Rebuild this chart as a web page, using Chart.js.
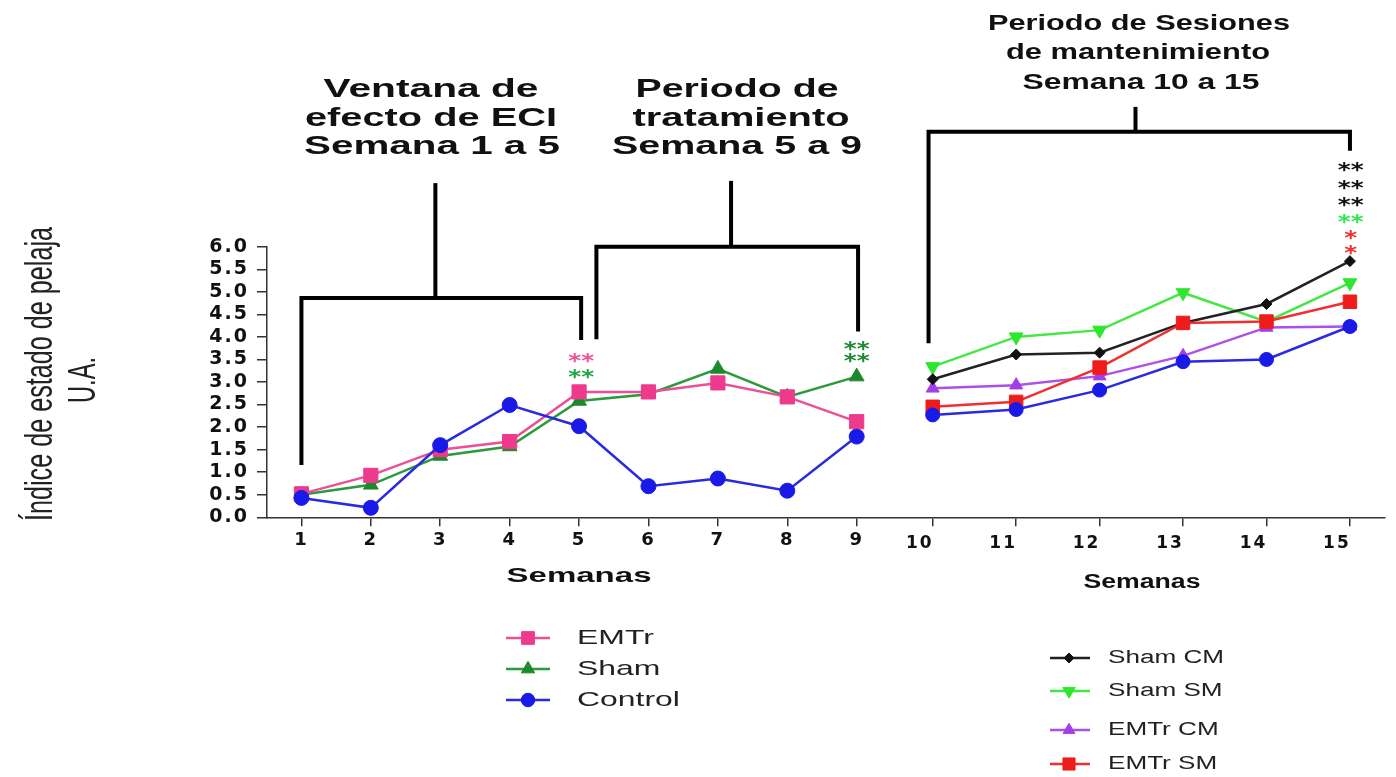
<!DOCTYPE html>
<html><head><meta charset="utf-8">
<script src="https://cdn.jsdelivr.net/npm/chart.js@4.4.0/dist/chart.umd.min.js"></script>
<style>
html,body{margin:0;padding:0;background:#fff;width:1396px;height:777px;overflow:hidden}
.box{position:absolute;top:0;height:777px}
</style></head><body>
<div class="box" style="left:0;width:900px"><canvas id="cL"></canvas></div>
<div class="box" style="left:900px;width:496px"><canvas id="cR"></canvas></div>
<script>
// ---------- data ----------
const weeksLeft  = [1, 2, 3, 4, 5, 6, 7, 8, 9];
const weeksRight = [10, 11, 12, 13, 14, 15];
const yTickValues = [0, 0.5, 1, 1.5, 2, 2.5, 3, 3.5, 4, 4.5, 5, 5.5, 6];
const yTickLabels = ['0.0','0.5','1.0','1.5','2.0','2.5','3.0','3.5','4.0','4.5','5.0','5.5','6.0'];

const emtr    = [0.52, 0.93, 1.50, 1.68, 2.78, 2.78, 2.98, 2.67, 2.12];
const sham    = [0.50, 0.72, 1.36, 1.57, 2.58, 2.73, 3.29, 2.67, 3.12];
const control = [0.43, 0.21, 1.60, 2.49, 2.02, 0.69, 0.86, 0.59, 1.79];

const shamCM       = [3.06, 3.61, 3.65, 4.31, 4.73, 5.68];
const shamSM       = [3.34, 4.00, 4.15, 4.98, 4.34, 5.20];
const emtrCM       = [2.86, 2.93, 3.13, 3.58, 4.21, 4.23];
const emtrSM       = [2.45, 2.56, 3.32, 4.31, 4.34, 4.78];
const controlRight = [2.27, 2.39, 2.82, 3.45, 3.50, 4.23];

// bracket annotations (data units): x1,x2 ends, y bar level, yl/yr bottoms, xs/ys stem
const bracketsLeft  = [
  {x1: 1.00, x2: 5.03, y: 4.86, yl: 1.16, yr: 3.93, xs: 2.93, ys: 7.41},
  {x1: 5.25, x2: 9.02, y: 6.00, yl: 3.95, yr: 4.12, xs: 7.19, ys: 7.46}
];
const bracketsRight = [
  {x1: 9.95, x2: 15.0, y: 8.55, yl: 3.86, yr: 8.13, xs: 12.43, ys: 9.10}
];
const starsLeft = [
  {x: 5.03, y: 3.56, t: '**', c: '#f0509a'},
  {x: 5.03, y: 3.20, t: '**', c: '#22a444'},
  {x: 9.00, y: 3.82, t: '**', c: '#1e8a30'},
  {x: 9.00, y: 3.56, t: '**', c: '#1e8a30'}
];
const starsRight = [
  {x: 15.01, y: 7.79, t: '**', c: '#111111'},
  {x: 15.01, y: 7.39, t: '**', c: '#111111'},
  {x: 15.01, y: 7.01, t: '**', c: '#111111'},
  {x: 15.01, y: 6.63, t: '**', c: '#33e655'},
  {x: 15.01, y: 6.28, t: '*',  c: '#f03030'},
  {x: 15.01, y: 5.95, t: '*',  c: '#f03030'}
];
const titlesLeft = [
  {lines: ['Ventana de', 'efecto de ECI', 'Semana 1 a 5'], cx: [431, 431, 432], w: [215, 252, 256], y: [90, 119, 147]},
  {lines: ['Periodo de', 'tratamiento', 'Semana 5 a 9'], cx: [737, 741, 737], w: [203, 217, 250], y: [90, 119, 147]}
];
const titlesRight = [
  {lines: ['Periodo de Sesiones', 'de mantenimiento', 'Semana 10 a 15'], cx: [239, 238, 241], w: [302, 264, 237], y: [24, 53, 83]}
];
const legendLeft  = ['EMTr', 'Sham', 'Control'];
const legendRight = ['Sham CM', 'Sham SM', 'EMTr CM', 'EMTr SM'];

// ---------- helpers ----------
const pts = (xs, ys) => xs.map((x, i) => ({x: x, y: ys[i]}));
function scaledText(ctx, txt, x, y, font, sx, align, color, sy) {
  ctx.save();
  ctx.font = font; ctx.fillStyle = color || '#111';
  ctx.textBaseline = 'middle'; ctx.textAlign = align || 'left';
  ctx.translate(x, y); ctx.scale(sx, sy || 1);
  ctx.fillText(txt, 0, 0);
  ctx.restore();
}
function fitText(ctx, txt, cx, cy, font, w, color) {
  ctx.save(); ctx.font = font;
  const m = ctx.measureText(txt).width;
  ctx.restore();
  scaledText(ctx, txt, cx, cy, font, w / m, 'center', color);
}
function drawBrackets(chart, list) {
  const ctx = chart.ctx, xs = chart.scales.x, ys = chart.scales.y;
  ctx.save();
  ctx.strokeStyle = '#000'; ctx.lineWidth = 4; ctx.lineCap = 'butt'; ctx.lineJoin = 'miter';
  list.forEach(b => {
    const X1 = xs.getPixelForValue(b.x1), X2 = xs.getPixelForValue(b.x2);
    const Y = ys.getPixelForValue(b.y);
    ctx.beginPath();
    ctx.moveTo(X1, ys.getPixelForValue(b.yl));
    ctx.lineTo(X1, Y); ctx.lineTo(X2, Y);
    ctx.lineTo(X2, ys.getPixelForValue(b.yr));
    ctx.stroke();
    const XS = xs.getPixelForValue(b.xs);
    ctx.beginPath();
    ctx.moveTo(XS, Y); ctx.lineTo(XS, ys.getPixelForValue(b.ys));
    ctx.stroke();
  });
  ctx.restore();
}
function drawStars(chart, list) {
  const ctx = chart.ctx, xs = chart.scales.x, ys = chart.scales.y;
  list.forEach(s => {
    scaledText(ctx, s.t, xs.getPixelForValue(s.x), ys.getPixelForValue(s.y) + 5,
      'bold 19px "DejaVu Sans"', 1.3, 'center', s.c);
  });
}
function drawTitles(chart, list, fontPx) {
  list.forEach(t => t.lines.forEach((ln, i) => {
    fitText(chart.ctx, ln, t.cx[i], t.y[i], 'bold ' + fontPx + 'px "Liberation Sans"', t.w[i], '#111');
  }));
}
function drawLegend(chart, labels, lx1, lx2, mx, tx, rows, font, sx) {
  const ctx = chart.ctx;
  labels.forEach((lab, i) => {
    const ds = chart.data.datasets.find(d => d.label === lab);
    const y = rows[i];
    ctx.save();
    ctx.strokeStyle = ds.borderColor; ctx.lineWidth = ds.borderWidth;
    ctx.beginPath(); ctx.moveTo(lx1, y); ctx.lineTo(lx2, y); ctx.stroke();
    ctx.fillStyle = ds.pointBackgroundColor; ctx.strokeStyle = ds.pointBorderColor; ctx.lineWidth = 1;
    Chart.helpers.drawPoint(ctx, {pointStyle: ds.pointStyle, rotation: ds.pointRotation || 0,
      radius: ds.pointRadius * 0.9, borderWidth: 1}, mx, y);
    ctx.restore();
    scaledText(ctx, lab, tx, y, font, sx, 'left', '#222');
  });
}
function ds(label, data, color, lineColor, style, radius, rot) {
  return {label, data, borderColor: lineColor, borderWidth: 2.5, pointStyle: style,
    pointRadius: radius, pointHoverRadius: radius, pointRotation: rot || 0,
    pointBackgroundColor: color, pointBorderColor: color, pointBorderWidth: 1,
    tension: 0, fill: false};
}
const spacingPlugin = {
  id: 'spacing',
  beforeDraw(chart) { chart.ctx.letterSpacing = '2px'; },
  afterDatasetsDraw(chart) { chart.ctx.letterSpacing = '0px'; }
};
function yScale(show) {
  return {
    type: 'linear', min: 0, max: 6, display: show,
    afterBuildTicks: s => { s.ticks = yTickValues.map(v => ({value: v})); },
    ticks: {callback: (v, i) => yTickLabels[i], color: '#111', padding: 8, autoSkip: false,
      font: {family: 'DejaVu Sans', weight: 'bold', size: 19}},
    grid: {display: true, drawOnChartArea: false, drawTicks: true, tickLength: 10, color: '#333', lineWidth: 1.5},
    border: {display: true, color: '#333', width: 1.5},
    afterFit: s => { s.width = show ? 60 : 0; s.paddingTop = 0; s.paddingBottom = 0; s.paddingLeft = 0; s.paddingRight = 0; }
  };
}
function xScale(min, max, ticksArr, fontSize, pad, offset) {
  return {
    type: 'linear', min, max,
    afterBuildTicks: s => { s.ticks = ticksArr.map(v => ({value: v})); },
    ticks: {callback: v => String(v), color: '#111', padding: pad, labelOffset: offset, maxRotation: 0,
      autoSkip: false, font: {family: 'DejaVu Sans', weight: 'bold', size: fontSize}},
    grid: {display: true, drawOnChartArea: false, drawTicks: true, tickLength: 9, color: '#333', lineWidth: 1.5},
    border: {display: true, color: '#333', width: 1.5},
    afterFit: s => { s.height = 60; s.paddingLeft = 0; s.paddingRight = 0; s.paddingTop = 0; s.paddingBottom = 0; }
  };
}

// ---------- left chart ----------
new Chart(document.getElementById('cL'), {
  type: 'line',
  data: {datasets: [
    ds('Control', pts(weeksLeft, control), '#1a1ae8', '#2a2ae0', 'circle', 7.5),
    ds('EMTr', pts(weeksLeft, emtr), '#ee3a8c', '#ee4e96', 'rect', 10),
    ds('Sham', pts(weeksLeft, sham), '#1c8a2c', '#2a9a3a', 'triangle', 8.5)
  ]},
  options: {
    responsive: true, maintainAspectRatio: false, animation: false,
    layout: {autoPadding: false, padding: {left: 207, right: 0, top: 246.7, bottom: 199.7}},
    plugins: {legend: {display: false}, tooltip: {enabled: false}},
    scales: {x: xScale(0.504, 9.624, weeksLeft, 18, 3, 0), y: yScale(true)}
  },
  plugins: [spacingPlugin, {
    id: 'decoL',
    afterDraw(chart) {
      const ctx = chart.ctx;
      ctx.letterSpacing = '0px';
      drawBrackets(chart, bracketsLeft);
      drawTitles(chart, titlesLeft, 26);
      drawStars(chart, starsLeft);
      drawLegend(chart, legendLeft, 506, 550, 528, 577, [638, 669, 700], '21px "Liberation Sans"', 1.52);
      fitText(ctx, 'Semanas', 579, 576, 'bold 21px "Liberation Sans"', 145, '#111');
      // y axis title (rotated)
      ctx.save();
      ctx.translate(41, 374); ctx.rotate(-Math.PI / 2);
      ctx.font = '25px "Liberation Sans"';
      let m = ctx.measureText('Índice de estado de pelaja').width;
      ctx.scale(294 / m, 1.55); ctx.fillStyle = '#222'; ctx.textAlign = 'center'; ctx.textBaseline = 'middle';
      ctx.fillText('Índice de estado de pelaja', 0, 0);
      ctx.restore();
      ctx.save();
      ctx.translate(84, 380); ctx.rotate(-Math.PI / 2);
      ctx.font = '25px "Liberation Sans"';
      m = ctx.measureText('U.A.').width;
      ctx.scale(46 / m, 1.55); ctx.fillStyle = '#222'; ctx.textAlign = 'center'; ctx.textBaseline = 'middle';
      ctx.fillText('U.A.', 0, 0);
      ctx.restore();
    }
  }]
});

// ---------- right chart ----------
new Chart(document.getElementById('cR'), {
  type: 'line',
  data: {datasets: [
    ds('Control', pts(weeksRight, controlRight), '#1a1ae8', '#2a2ae0', 'circle', 7),
    ds('EMTr SM', pts(weeksRight, emtrSM), '#ee1c1c', '#ee3030', 'rect', 9.5),
    ds('Sham CM', pts(weeksRight, shamCM), '#111111', '#222222', 'rectRot', 5.5),
    ds('EMTr CM', pts(weeksRight, emtrCM), '#a23ee8', '#b04ee8', 'triangle', 7.5),
    ds('Sham SM', pts(weeksRight, shamSM), '#2ee62e', '#44e844', 'triangle', 8, 180)
  ]},
  options: {
    responsive: true, maintainAspectRatio: false, animation: false,
    layout: {autoPadding: false, padding: {left: 0, right: 11, top: 246.7, bottom: 199.7}},
    plugins: {legend: {display: false}, tooltip: {enabled: false}},
    scales: {x: xScale(9.608, 15.42, weeksRight, 17, 7, -13), y: yScale(false)}
  },
  plugins: [spacingPlugin, {
    id: 'decoR',
    afterDraw(chart) {
      const ctx = chart.ctx;
      ctx.letterSpacing = '0px';
      drawBrackets(chart, bracketsRight);
      drawTitles(chart, titlesRight, 22);
      drawStars(chart, starsRight);
      drawLegend(chart, legendRight, 150, 190, 169, 208, [658, 691, 730, 764], '18px "Liberation Sans"', 1.45);
      fitText(ctx, 'Semanas', 242, 582, 'bold 20px "Liberation Sans"', 117, '#111');
    }
  }]
});
</script>
</body></html>
